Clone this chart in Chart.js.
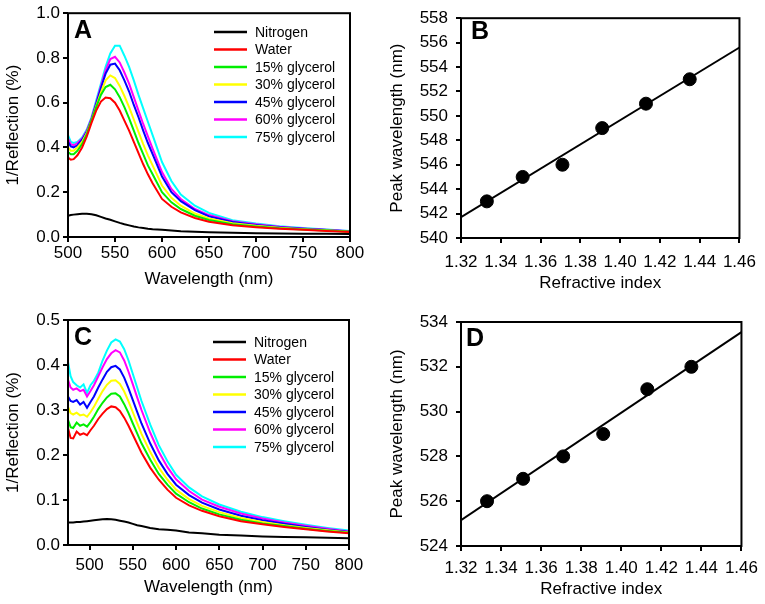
<!DOCTYPE html>
<html>
<head>
<meta charset="utf-8">
<script src="https://cdn.jsdelivr.net/npm/chart.js@4.4.1/dist/chart.umd.min.js"></script>
<style>
  body { margin: 0; background: #fff; }
  .panel { position: absolute; }
</style>
</head>
<body>
<canvas id="chartA" class="panel" width="380" height="300" style="left:0;top:0"></canvas>
<canvas id="chartB" class="panel" width="385" height="300" style="left:380px;top:0"></canvas>
<canvas id="chartC" class="panel" width="380" height="304" style="left:0;top:300px"></canvas>
<canvas id="chartD" class="panel" width="385" height="304" style="left:380px;top:300px"></canvas>
<script>
// ---- data ----
const seriesLabels = ['Nitrogen', 'Water', '15% glycerol', '30% glycerol', '45% glycerol', '60% glycerol', '75% glycerol'];
const seriesColors = ['#000000', '#ff0000', '#00ee00', '#ffff00', '#0000ff', '#ff00ff', '#00ffff'];

// panel A spectra
const wlA = [500, 503, 506, 510, 515, 520, 525, 530, 535, 540, 545, 550, 555, 560, 565, 570, 575, 580, 585, 590, 600, 610, 620, 635, 650, 675, 700, 725, 750, 775, 800];
const nitrogenA = [.095, .098, .100, .102, .104, .104, .102, .097, .090, .083, .077, .070, .063, .057, .052, .047, .043, .040, .037, .035, .032, .029, .026, .023, .021, .019, .017, .016, .015, .014, .013];
const waterA = [.355, .345, .348, .365, .400, .450, .510, .565, .605, .623, .620, .600, .565, .520, .475, .425, .375, .325, .280, .240, .170, .135, .110, .085, .068, .052, .044, .037, .032, .027, .022];
const gly15A = [.380, .370, .370, .385, .415, .460, .520, .580, .635, .670, .680, .660, .625, .580, .530, .475, .420, .370, .320, .280, .200, .155, .125, .095, .076, .057, .047, .039, .034, .029, .023];
const gly30A = [.400, .385, .385, .400, .425, .465, .520, .585, .645, .700, .722, .710, .675, .630, .580, .525, .470, .415, .365, .320, .230, .175, .140, .105, .083, .062, .050, .041, .035, .030, .024];
const gly45A = [.425, .405, .400, .410, .435, .470, .525, .595, .665, .730, .770, .775, .745, .700, .650, .590, .535, .475, .420, .370, .270, .200, .160, .120, .092, .067, .054, .044, .037, .031, .025];
const gly60A = [.440, .415, .410, .420, .440, .475, .530, .600, .675, .745, .795, .805, .780, .735, .685, .625, .565, .505, .450, .395, .290, .215, .170, .125, .098, .070, .057, .046, .038, .032, .026];
const gly75A = [.455, .425, .420, .425, .445, .480, .535, .610, .685, .760, .820, .855, .855, .810, .760, .700, .635, .575, .515, .455, .335, .250, .190, .140, .108, .075, .060, .048, .040, .033, .027];

// panel C spectra
const wlC = [475, 478, 481, 485, 489, 493, 497, 501, 505, 510, 515, 520, 525, 530, 535, 540, 545, 550, 555, 560, 570, 580, 590, 600, 615, 630, 650, 675, 700, 725, 750, 775, 800];
const nitrogenC = [.050, .050, .050, .051, .051, .052, .053, .054, .055, .056, .057, .058, .057, .056, .054, .052, .050, .047, .044, .042, .038, .035, .034, .032, .028, .026, .023, .021, .019, .018, .017, .016, .015];
const waterC = [.260, .238, .237, .252, .245, .248, .244, .255, .265, .280, .292, .302, .308, .306, .298, .283, .265, .245, .225, .205, .172, .145, .123, .105, .088, .076, .064, .053, .046, .040, .035, .030, .026];
const gly15C = [.278, .262, .260, .272, .265, .268, .263, .273, .285, .302, .316, .328, .336, .337, .330, .313, .293, .270, .248, .226, .190, .158, .134, .114, .095, .081, .068, .056, .048, .042, .036, .031, .027];
const gly30C = [.307, .293, .290, .294, .288, .290, .285, .295, .307, .325, .342, .356, .365, .366, .358, .341, .319, .295, .271, .247, .207, .172, .145, .123, .102, .087, .073, .060, .051, .044, .038, .033, .028];
const gly45C = [.330, .320, .318, .322, .312, .318, .305, .318, .330, .350, .368, .385, .395, .398, .390, .372, .348, .322, .296, .270, .226, .188, .158, .134, .111, .094, .079, .065, .055, .047, .040, .034, .029];
const gly60C = [.367, .350, .345, .348, .342, .345, .330, .342, .355, .375, .395, .413, .426, .433, .428, .410, .385, .357, .328, .300, .250, .207, .173, .146, .120, .101, .085, .070, .059, .050, .043, .036, .030];
const gly75C = [.407, .375, .362, .355, .350, .357, .338, .355, .365, .383, .410, .432, .450, .457, .452, .435, .410, .380, .350, .320, .268, .222, .186, .156, .128, .108, .090, .074, .062, .053, .045, .038, .032];

// panels B and D: peak position vs refractive index
const refIndex = [1.333, 1.351, 1.371, 1.391, 1.413, 1.435];
const peakB = [543, 545, 546, 549, 551, 553];
const peakD = [526, 527, 528, 529, 531, 532];
const fitX = [1.32, 1.46];
const fitB = [541.7, 555.6];
const fitD = [525.15, 533.55];

// ticks
const wlTicks = [500, 550, 600, 650, 700, 750, 800];
const yTicksA = [0, 0.2, 0.4, 0.6, 0.8, 1.0];
const yTicksC = [0, 0.1, 0.2, 0.3, 0.4, 0.5];
const riTicks = [1.32, 1.34, 1.36, 1.38, 1.40, 1.42, 1.44, 1.46];
const yTicksB = [540, 542, 544, 546, 548, 550, 552, 554, 556, 558];
const yTicksD = [524, 526, 528, 530, 532, 534];

const FONT = "'Liberation Sans', Arial, sans-serif";

// frame, panel letter and in-plot legend
const panelDecor = {
    id: 'panelDecor',
    afterDatasetsDraw(chart, args, opts) {
        const {ctx, chartArea: a} = chart;
        ctx.save();
        ctx.strokeStyle = '#000';
        ctx.lineWidth = 2;
        ctx.strokeRect(a.left, a.top, a.right - a.left, a.bottom - a.top);

        ctx.fillStyle = '#000';
        ctx.font = 'bold 25px ' + FONT;
        ctx.textBaseline = 'alphabetic';
        ctx.fillText(opts.letter, opts.letterX, opts.letterY);

        if (opts.legend) {
            const lg = opts.legend;
            ctx.font = '14px ' + FONT;
            ctx.textBaseline = 'middle';
            ctx.lineWidth = 2.5;
            seriesLabels.forEach((lab, i) => {
                const y = lg.y + i * lg.step;
                ctx.strokeStyle = seriesColors[i];
                ctx.beginPath();
                ctx.moveTo(lg.x, y);
                ctx.lineTo(lg.x + 33, y);
                ctx.stroke();
                ctx.fillStyle = '#000';
                ctx.fillText(lab, lg.x + 41, y + 1);
            });
        }
        ctx.restore();
    }
};

function axis(min, max, tickVals, digits, title, box) {
    return {
        type: 'linear',
        min: min,
        max: max,
        afterBuildTicks: s => { s.ticks = tickVals.map(v => ({value: v})); },
        afterFit: s => {
            if (box.width) s.width = box.width;
            if (box.height) s.height = box.height;
        },
        grid: {display: true, drawOnChartArea: false, drawTicks: true, tickLength: 5, color: '#000', lineWidth: 2},
        border: {display: false},
        ticks: {
            color: '#000',
            padding: box.tickPad,
            maxRotation: 0,
            autoSkip: false,
            font: {family: FONT, size: 17},
            callback: v => v.toFixed(digits)
        },
        title: {
            display: true,
            text: title,
            color: '#000',
            font: {family: FONT, size: 17},
            padding: box.titlePad
        }
    };
}

function spectrumChart(id, wl, series, xMin, yTicks, lay, decor) {
    const datasets = series.map((arr, i) => ({
        label: seriesLabels[i],
        data: wl.map((x, j) => ({x: x, y: arr[j]})),
        borderColor: seriesColors[i],
        borderWidth: 2,
        pointRadius: 0,
        tension: 0,
        fill: false
    }));
    return new Chart(document.getElementById(id), {
        type: 'line',
        data: {datasets: datasets},
        options: {
            responsive: false,
            animation: false,
            layout: {padding: lay.padding},
            scales: {
                x: axis(xMin, 800, wlTicks, 0, 'Wavelength (nm)', lay.x),
                y: axis(0, yTicks[yTicks.length - 1], yTicks, 1, '1/Reflection (%)', lay.y)
            },
            plugins: {legend: {display: false}, tooltip: {enabled: false}, panelDecor: decor}
        },
        plugins: [panelDecor]
    });
}

function fitChart(id, peaks, fit, yTicks, lay, decor) {
    return new Chart(document.getElementById(id), {
        type: 'scatter',
        data: {
            datasets: [{
                type: 'line',
                data: fitX.map((x, i) => ({x: x, y: fit[i]})),
                borderColor: '#000',
                borderWidth: 2,
                pointRadius: 0,
                fill: false
            }, {
                data: refIndex.map((x, i) => ({x: x, y: peaks[i]})),
                backgroundColor: '#000',
                borderColor: '#000',
                pointRadius: 6.5
            }]
        },
        options: {
            responsive: false,
            animation: false,
            layout: {padding: lay.padding},
            scales: {
                x: axis(1.32, 1.46, riTicks, 2, 'Refractive index', lay.x),
                y: axis(yTicks[0], yTicks[yTicks.length - 1], yTicks, 0, 'Peak wavelength (nm)', lay.y)
            },
            plugins: {legend: {display: false}, tooltip: {enabled: false}, panelDecor: decor}
        },
        plugins: [panelDecor]
    });
}

spectrumChart('chartA', wlA, [nitrogenA, waterA, gly15A, gly30A, gly45A, gly60A, gly75A], 500, yTicksA, {
    padding: {top: 13, right: 30, left: 0, bottom: 0},
    x: {height: 63, tickPad: 1, titlePad: {top: 0, bottom: 10}},
    y: {width: 68, tickPad: 3, titlePad: {top: 3, bottom: 0}}
}, {letter: 'A', letterX: 74, letterY: 38, legend: {x: 214, y: 32, step: 17.5}});

fitChart('chartB', peakB, fitB, yTicksB, {
    padding: {top: 15, right: 23, left: 0, bottom: 0},
    x: {height: 62, tickPad: 9, titlePad: {top: 0, bottom: 6}},
    y: {width: 81, tickPad: 8, titlePad: {top: 7, bottom: 0}}
}, {letter: 'B', letterX: 91, letterY: 39});

spectrumChart('chartC', wlC, [nitrogenC, waterC, gly15C, gly30C, gly45C, gly60C, gly75C], 475, yTicksC, {
    padding: {top: 20, right: 31, left: 0, bottom: 0},
    x: {height: 59, tickPad: 5, titlePad: {top: 0, bottom: 6}},
    y: {width: 68, tickPad: 3, titlePad: {top: 3, bottom: 0}}
}, {letter: 'C', letterX: 74, letterY: 45, legend: {x: 213, y: 42, step: 17.5}});

fitChart('chartD', peakD, fitD, yTicksD, {
    padding: {top: 22, right: 23, left: 0, bottom: 0},
    x: {height: 58, tickPad: 7, titlePad: {top: 0, bottom: 4}},
    y: {width: 81, tickPad: 8, titlePad: {top: 7, bottom: 0}}
}, {letter: 'D', letterX: 86, letterY: 46});
</script>
</body>
</html>
